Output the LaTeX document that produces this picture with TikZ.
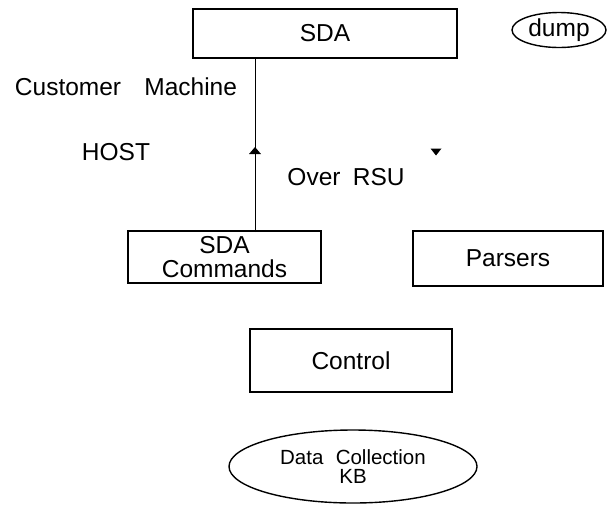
\documentclass[tikz,border=0pt]{standalone}
\usepackage{fontspec}
\setmainfont{Liberation Sans}
\usetikzlibrary{shapes.geometric}
\tikzset{
  box/.style={draw,line width=1.8pt,inner sep=0pt,align=center},
  blob/.style={draw,ellipse,line width=1.4pt,inner sep=0pt,align=center},
  lbl/.style={anchor=base,inner sep=0pt}
}
\begin{document}
\begin{tikzpicture}[x=1pt,y=-1pt,font=\fontsize{24.5}{23.5}\selectfont]
    \useasboundingbox (0,0) rectangle (607,504);
    \node [box,minimum width=264,minimum height=49] (sda) at (325,33.5) {SDA};
    \node [blob,minimum width=94,minimum height=35] (dump) at (559,30) {dump};
    \node [box,minimum width=193,minimum height=52] (cmds) at (224.5,257) {SDA\\Commands};
    \node [box,minimum width=190,minimum height=55] (parsers) at (508,258.5) {Parsers};
    \node [box,minimum width=202,minimum height=63] (control) at (351,360.5) {Control};
    \node [blob,minimum width=248,minimum height=73,font=\fontsize{20.5}{18.5}\selectfont] (kb) at (353,466.5) {Data\hspace{0.6em}Collection\\KB};
    \draw node [lbl] (cust) at (126,95) {Customer\hspace{0.95em}Machine};
    \draw node [lbl] (host) at (116,160) {HOST};
    \draw node [lbl] (rsu) at (346,185) {Over\hspace{0.5em}RSU};
    % host link
    \coordinate (hosttop) at (255,0 |- sda.south);
    \draw [line width=0.9pt] (cmds.north -| hosttop) ++(0,2) -- (hosttop);
    \fill (249,154) -- (261,154) -- (255,147) -- cycle;
    \fill (430.5,148.5) -- (441.5,148.5) -- (436,155.5) -- cycle;
  \end{tikzpicture}
\end{document}
